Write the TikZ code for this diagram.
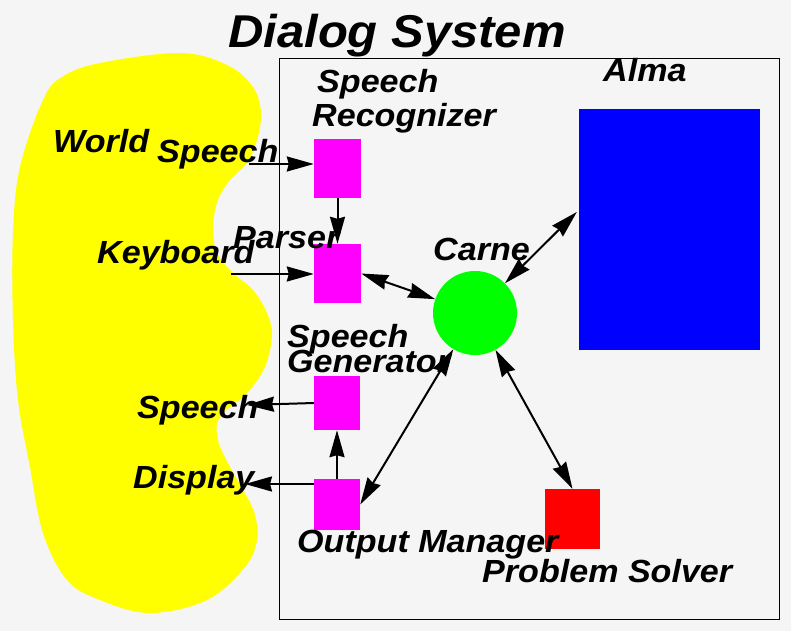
\documentclass[tikz,border=0pt]{standalone}
\usepackage{fontspec}
\setmainfont{Liberation Sans}[FakeStretch=1.065]
\usetikzlibrary{arrows.meta}
\definecolor{bgc}{RGB}{245,245,245}
\definecolor{mag}{RGB}{255,0,255}
\definecolor{grn}{RGB}{0,255,0}
\definecolor{blu}{RGB}{0,0,255}
\definecolor{rd}{RGB}{255,0,0}
\definecolor{yel}{RGB}{255,255,0}
\begin{document}
\begin{tikzpicture}[x=1pt,y=-1pt,
  lbl/.style={font=\fontsize{32}{32}\selectfont\bfseries\itshape, inner sep=0pt, anchor=base west},
  mbox/.style={fill=mag, draw=none, inner sep=0pt, minimum width=47pt, minimum height=57pt},
  tip/.tip={Stealth[length=27pt,width=15pt,inset=2pt]},
  arr/.style={-tip, line width=2pt},
  darr/.style={tip-tip, line width=2pt}]
\fill[bgc] (0,0) rectangle (791,631);
\useasboundingbox (0,0) rectangle (791,631);
% world blob
\fill[yel] plot[smooth cycle, tension=0.6] coordinates {
 (180,53) (227,65) (253,87) (261,113) (257,140) (247,163) (230,180) (218,200)
 (213,227) (217,253) (233,273) (253,290) (267,313) (272,335) (265,367) (247,393)
 (220,417) (218,440) (230,467) (245,493) (255,515) (257,540) (245,567) (207,600)
 (150,613) (100,600) (67,580) (43,533) (30,467) (18,400) (13,320) (13,233)
 (20,167) (43,100) (62,77) (100,63)};
% frame
\draw[line width=1pt] (279,59) rectangle (779,619);
% title
\node[lbl, font=\fontsize{46}{46}\selectfont\bfseries\itshape] (title) at (228,48) {Dialog System};
% boxes
\node[mbox, minimum height=59pt] (sr) at (337.5,168.5) {};
\node[mbox, minimum height=59pt] (par) at (337.5,273.5) {};
\node[mbox, minimum width=46pt, minimum height=54pt] (sg) at (337,403) {};
\node[mbox, minimum width=46pt, minimum height=51pt] (om) at (337,504.5) {};
\node[fill=blu, inner sep=0pt, minimum width=181pt, minimum height=241pt] (alma) at (669.5,229.5) {};
\node[circle, fill=grn, inner sep=0pt, minimum size=84pt] (carne) at (475,313) {};
\node[fill=rd, inner sep=0pt, minimum width=55pt, minimum height=60pt] (ps) at (572.5,519) {};
% labels
\node[lbl] (l1) at (317,93) {Speech};
\node[lbl] (l2) at (312,127) {Recognizer};
\node[lbl] (l3) at (603,82) {Alma};
\node[lbl] (l4) at (53,153) {World};
\node[lbl] (l5) at (157,163) {Speech};
\node[lbl] (l6) at (233,248) {Parser};
\node[lbl] (l7) at (97,263) {Keyboard};
\node[lbl] (l8) at (433,260) {Carne};
\node[lbl] (l9) at (287,347) {Speech};
\node[lbl] (l10) at (287,372) {Generator};
\node[lbl] (l11) at (137,418) {Speech};
\node[lbl] (l12) at (133,488) {Display};
\node[lbl] (l13) at (297,552) {Output Manager};
\node[lbl] (l14) at (482,582) {Problem Solver};
% connector ends
\coordinate (cs) at (249,164);
\coordinate (ck) at (231,274);
\coordinate (cso) at (247,405);
\coordinate (cd) at (245,484);
% arrows
\draw[arr] (cs) -- (sr.west |- cs);
\draw[arr] (sr.south) -- (par.north);
\draw[arr] (ck) -- (par.west |- ck);
\draw[darr] (par.east) -- (carne);
\draw[darr] (carne) -- ([yshift=17.5pt,xshift=-2pt]alma.west);
\draw[darr] (carne) -- (om.east);
\draw[darr] (carne) -- (ps.north);
\draw[arr] (sg.west) -- (cso);
\draw[arr] (om.west |- cd) -- (cd);
\draw[arr] (om.north) -- (sg.south);
\end{tikzpicture}
\end{document}
